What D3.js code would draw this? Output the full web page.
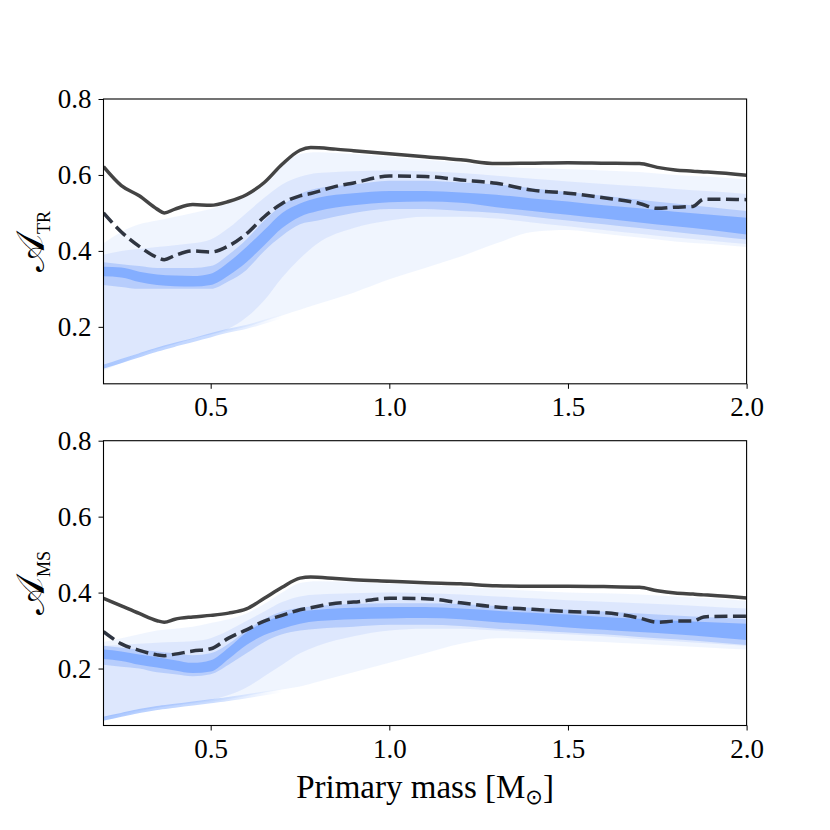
<!DOCTYPE html>
<html>
<head>
<meta charset="utf-8">
<script src="https://cdn.jsdelivr.net/npm/d3@7"></script>
<style>
  body { margin: 0; background: #fff; }
  text { font-family: "Liberation Serif", "DejaVu Serif", serif; fill: #000; }
</style>
</head>
<body>
<div id="chart"></div>
<script>
const W = 830, H = 830;

// mass grid for the blue model bands
const bandMass = [0.2, 0.25, 0.3, 0.35, 0.4, 0.45, 0.5, 0.55, 0.6, 0.65, 0.7, 0.75, 0.8,
                  0.9, 1.0, 1.1, 1.2, 1.3, 1.4, 1.5, 1.6, 1.7, 1.8, 1.9, 2.0];
// mass grid for the two dark curves
const lineMass = [0.2, 0.25, 0.3, 0.35, 0.37, 0.4, 0.45, 0.5, 0.55, 0.6, 0.65, 0.7, 0.75, 0.78,
                  0.85, 0.9, 1.0, 1.1, 1.2, 1.3, 1.4, 1.5, 1.6, 1.7, 1.75, 1.8, 1.85, 1.88, 1.9, 2.0];
const edgeMass = [0.2, 0.25, 0.3, 0.35, 0.4, 0.45, 0.5, 0.55, 0.6, 0.7];

// ---- top panel (TR) ----
const trOuterLo = [0.085, 0.105, 0.125, 0.14, 0.155, 0.17, 0.18, 0.19, 0.2, 0.215, 0.23, 0.245, 0.26,
                   0.29, 0.325, 0.355, 0.385, 0.42, 0.45, 0.455, 0.445, 0.435, 0.425, 0.418, 0.41];
const trOuterHi = [0.42, 0.45, 0.47, 0.48, 0.49, 0.50, 0.51, 0.525, 0.545, 0.58, 0.625, 0.655, 0.66,
                   0.655, 0.648, 0.64, 0.632, 0.622, 0.618, 0.615, 0.612, 0.608, 0.60, 0.595, 0.588];
const trMidLo = [0.10, 0.115, 0.13, 0.143, 0.155, 0.168, 0.18, 0.195, 0.225, 0.27, 0.33, 0.38, 0.42,
                 0.46, 0.48, 0.49, 0.49, 0.485, 0.475, 0.465, 0.455, 0.445, 0.435, 0.427, 0.418];
const trMidHi = [0.39, 0.40, 0.405, 0.41, 0.415, 0.42, 0.43, 0.46, 0.50, 0.54, 0.575, 0.595, 0.605,
                 0.61, 0.612, 0.61, 0.605, 0.598, 0.59, 0.583, 0.576, 0.57, 0.563, 0.557, 0.55];
const trBandLo = [0.31, 0.305, 0.30, 0.30, 0.30, 0.30, 0.30, 0.32, 0.35, 0.40, 0.44, 0.47, 0.48,
                  0.50, 0.51, 0.51, 0.505, 0.50, 0.49, 0.48, 0.47, 0.46, 0.45, 0.44, 0.43];
const trBandHi = [0.37, 0.365, 0.36, 0.355, 0.355, 0.355, 0.36, 0.39, 0.43, 0.48, 0.52, 0.55, 0.565,
                  0.575, 0.585, 0.585, 0.58, 0.575, 0.565, 0.555, 0.545, 0.535, 0.525, 0.515, 0.505];
const trCoreLo = [0.333, 0.330, 0.318, 0.310, 0.307, 0.306, 0.310, 0.335, 0.370, 0.415, 0.460, 0.490, 0.505,
                  0.520, 0.528, 0.530, 0.527, 0.515, 0.505, 0.495, 0.485, 0.475, 0.465, 0.455, 0.443];
const trCoreHi = [0.358, 0.356, 0.345, 0.338, 0.335, 0.334, 0.340, 0.370, 0.410, 0.455, 0.500, 0.525, 0.540,
                  0.552, 0.558, 0.558, 0.554, 0.548, 0.538, 0.530, 0.520, 0.512, 0.503, 0.495, 0.487];
const trEdge = [0.095, 0.11, 0.125, 0.14, 0.153, 0.165, 0.178, 0.19, 0.2, 0.228];
const trSolid = [0.622, 0.572, 0.545, 0.510, 0.500, 0.510, 0.522, 0.520, 0.530, 0.548, 0.580, 0.628, 0.665, 0.672,
                 0.668, 0.664, 0.656, 0.648, 0.640, 0.630, 0.631, 0.632, 0.631, 0.630, 0.620, 0.613, 0.610, 0.608, 0.607, 0.599];
const trDashed = [0.500, 0.450, 0.412, 0.383, 0.377, 0.388, 0.400, 0.397, 0.413, 0.445, 0.490, 0.525, 0.545, 0.551,
                  0.570, 0.579, 0.597, 0.596, 0.587, 0.578, 0.560, 0.552, 0.540, 0.525, 0.512, 0.515, 0.517, 0.536, 0.536, 0.535];

// ---- bottom panel (MS) ----
const msOuterLo = [0.062, 0.075, 0.087, 0.097, 0.103, 0.108, 0.113, 0.12, 0.128, 0.137, 0.145, 0.153, 0.165,
                   0.19, 0.215, 0.24, 0.265, 0.28, 0.278, 0.274, 0.27, 0.265, 0.26, 0.255, 0.25];
const msOuterHi = [0.27, 0.28, 0.29, 0.30, 0.305, 0.31, 0.32, 0.33, 0.345, 0.37, 0.40, 0.425, 0.43,
                   0.428, 0.423, 0.42, 0.415, 0.41, 0.405, 0.40, 0.398, 0.395, 0.39, 0.385, 0.378];
const msMidLo = [0.07, 0.08, 0.09, 0.097, 0.103, 0.11, 0.117, 0.13, 0.15, 0.18, 0.21, 0.24, 0.26,
                 0.285, 0.30, 0.305, 0.305, 0.30, 0.295, 0.29, 0.285, 0.278, 0.272, 0.266, 0.26];
const msMidHi = [0.26, 0.262, 0.265, 0.268, 0.27, 0.272, 0.28, 0.30, 0.325, 0.35, 0.375, 0.39, 0.395,
                 0.398, 0.40, 0.398, 0.395, 0.39, 0.385, 0.38, 0.376, 0.372, 0.368, 0.363, 0.358];
const msBandLo = [0.21, 0.205, 0.20, 0.19, 0.185, 0.18, 0.185, 0.21, 0.24, 0.27, 0.29, 0.30, 0.305,
                  0.31, 0.315, 0.315, 0.312, 0.305, 0.30, 0.295, 0.29, 0.283, 0.277, 0.27, 0.262];
const msBandHi = [0.26, 0.255, 0.25, 0.245, 0.24, 0.235, 0.24, 0.265, 0.30, 0.33, 0.35, 0.36, 0.365,
                  0.37, 0.372, 0.372, 0.37, 0.365, 0.36, 0.355, 0.35, 0.345, 0.34, 0.335, 0.33];
const msCoreLo = [0.225, 0.220, 0.210, 0.203, 0.195, 0.188, 0.192, 0.225, 0.262, 0.288, 0.305, 0.318, 0.325,
                  0.330, 0.332, 0.333, 0.330, 0.322, 0.316, 0.308, 0.302, 0.296, 0.290, 0.283, 0.275];
const msCoreHi = [0.250, 0.245, 0.237, 0.230, 0.222, 0.215, 0.222, 0.255, 0.295, 0.322, 0.340, 0.350, 0.355,
                  0.360, 0.362, 0.362, 0.358, 0.352, 0.347, 0.342, 0.336, 0.331, 0.326, 0.322, 0.318];
const msEdge = [0.068, 0.078, 0.088, 0.096, 0.102, 0.108, 0.114, 0.12, 0.127, 0.142];
const msSolid = [0.385, 0.365, 0.345, 0.326, 0.322, 0.330, 0.336, 0.340, 0.346, 0.357, 0.385, 0.414, 0.438, 0.441,
                 0.437, 0.434, 0.430, 0.426, 0.423, 0.418, 0.417, 0.417, 0.416, 0.414, 0.405, 0.399, 0.396, 0.394, 0.393, 0.386];
const msDashed = [0.297, 0.265, 0.248, 0.236, 0.234, 0.238, 0.246, 0.252, 0.280, 0.302, 0.325, 0.340, 0.355, 0.360,
                  0.372, 0.375, 0.385, 0.384, 0.373, 0.362, 0.356, 0.350, 0.347, 0.333, 0.322, 0.325, 0.325, 0.336, 0.337, 0.338];

const xTicks = [0.5, 1.0, 1.5, 2.0];
const yTicks = [0.2, 0.4, 0.6, 0.8];

const panels = [
  { top: 99, sub: "TR", outer: [trOuterLo, trOuterHi], mid: [trMidLo, trMidHi], band: [trBandLo, trBandHi],
    core: [trCoreLo, trCoreHi], edge: trEdge, solid: trSolid, dashed: trDashed },
  { top: 440.7, sub: "MS", outer: [msOuterLo, msOuterHi], mid: [msMidLo, msMidHi], band: [msBandLo, msBandHi],
    core: [msCoreLo, msCoreHi], edge: msEdge, solid: msSolid, dashed: msDashed }
];

const left = 103.5, right = 746.6, ph = 284.8;

const svg = d3.select("#chart").append("svg")
    .attr("width", W)
    .attr("height", H);

const x = d3.scaleLinear().domain([0.2, 2.0]).range([left, right]);

// fading stroke for the dense low-mass edge
const grad = svg.append("defs").append("linearGradient")
    .attr("id", "edgeFade")
    .attr("gradientUnits", "userSpaceOnUse")
    .attr("x1", x(0.2)).attr("x2", x(0.7))
    .attr("y1", 0).attr("y2", 0);
grad.append("stop").attr("offset", 0).attr("stop-color", "#7ba8ff").attr("stop-opacity", 0.6);
grad.append("stop").attr("offset", 0.6).attr("stop-color", "#7ba8ff").attr("stop-opacity", 0.4);
grad.append("stop").attr("offset", 1).attr("stop-color", "#7ba8ff").attr("stop-opacity", 0);

panels.forEach((p, i) => {
    const y = d3.scaleLinear().domain([0.05, 0.8]).range([p.top + ph, p.top]);
    const g = svg.append("g");

    const clipId = "clip" + i;
    g.append("clipPath").attr("id", clipId)
      .append("rect")
        .attr("x", left).attr("y", p.top)
        .attr("width", right - left).attr("height", ph);

    const plot = g.append("g").attr("clip-path", `url(#${clipId})`);

    const area = (lo, hi) => d3.area()
        .x((d, j) => x(bandMass[j]))
        .y0((d, j) => y(lo[j]))
        .y1((d, j) => y(hi[j]))
        .curve(d3.curveMonotoneX)(bandMass);

    plot.append("path").attr("d", area(p.outer[0], p.outer[1]))
        .attr("fill", "#6f9dfa").attr("fill-opacity", 0.1);
    plot.append("path").attr("d", area(p.mid[0], p.mid[1]))
        .attr("fill", "#6f9dfa").attr("fill-opacity", 0.15);
    plot.append("path").attr("d", area(p.band[0], p.band[1]))
        .attr("fill", "#6f9dfa").attr("fill-opacity", 0.35);
    plot.append("path").attr("d", area(p.core[0], p.core[1]))
        .attr("fill", "#7ba8ff").attr("fill-opacity", 0.85);

    // dense lower edge of the spaghetti at low mass
    plot.append("path")
        .attr("d", d3.line()
            .x((d, j) => x(edgeMass[j]))
            .y(d => y(d))
            .curve(d3.curveMonotoneX)(p.edge))
        .attr("fill", "none")
        .attr("stroke", "url(#edgeFade)")
        .attr("stroke-width", 4);

    const line = d3.line()
        .x((d, j) => x(lineMass[j]))
        .y(d => y(d))
        .curve(d3.curveMonotoneX);

    plot.append("path").attr("d", line(p.solid))
        .attr("fill", "none")
        .attr("stroke", "#444444")
        .attr("stroke-width", 3.5);

    plot.append("path").attr("d", line(p.dashed))
        .attr("fill", "none")
        .attr("stroke", "#2f3541")
        .attr("stroke-width", 3.5)
        .attr("stroke-dasharray", "13,5.5");

    // frame
    g.append("rect")
        .attr("x", left).attr("y", p.top)
        .attr("width", right - left).attr("height", ph)
        .attr("fill", "none")
        .attr("stroke", "#000")
        .attr("stroke-width", 1.1);

    // axes
    const xAxis = g.append("g")
        .attr("transform", `translate(0,${p.top + ph})`)
        .call(d3.axisBottom(x).tickValues(xTicks).tickFormat(d3.format(".1f")).tickSize(5).tickPadding(8));
    const yAxis = g.append("g")
        .attr("transform", `translate(${left},0)`)
        .call(d3.axisLeft(y).tickValues(yTicks).tickFormat(d3.format(".1f")).tickSize(5).tickPadding(7));

    [xAxis, yAxis].forEach(a => {
        a.attr("font-family", null).attr("font-size", null);
        a.select(".domain").remove();
        a.selectAll(".tick line").attr("stroke", "#000").attr("stroke-width", 1);
        a.selectAll(".tick text")
            .attr("fill", "#000")
            .style("font-family", "'Liberation Serif', serif")
            .style("font-size", "27px");
    });

    // y label: script A with subscript
    const yl = g.append("text")
        .attr("transform", `translate(44,${p.top + ph / 2}) rotate(-90)`)
        .attr("text-anchor", "middle");
    yl.append("tspan")
        .style("font-family", "'DejaVu Serif', serif")
        .style("font-size", "40px")
        .text("𝒜");
    yl.append("tspan")
        .attr("dy", 6)
        .style("font-size", "18px")
        .text(p.sub);
});

// x label
const xl = svg.append("text")
    .attr("x", (left + right) / 2)
    .attr("y", 798)
    .attr("text-anchor", "middle")
    .style("font-size", "33px");
xl.append("tspan").text("Primary mass [M");
xl.append("tspan").attr("dy", 6).style("font-size", "21px")
    .style("font-family", "'DejaVu Sans', sans-serif").text("⊙");
xl.append("tspan").attr("dy", -6).text("]");
</script>
</body>
</html>
